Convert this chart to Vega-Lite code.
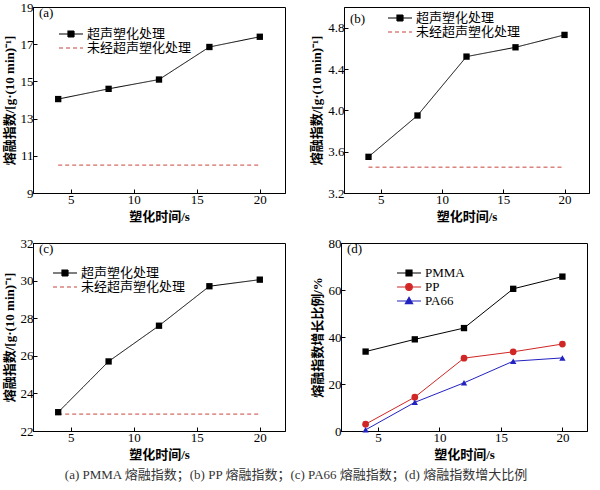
{
  "$schema": "https://vega.github.io/schema/vega-lite/v6.json",
  "padding": {"left": 2, "top": 0, "right": 5, "bottom": 5},
  "resolve": {"scale": {"color": "independent", "strokeDash": "independent"}, "legend": {"color": "independent", "strokeDash": "independent"}},
  "config": {
    "font": "Liberation Serif",
    "view": {"stroke": "black", "strokeWidth": 1},
    "axis": {
      "grid": false,
      "domainColor": "black",
      "tickColor": "black",
      "tickSize": -4,
      "tickCount": 12,
      "labelPadding": 4,
      "labelOverlap": false,
      "labelFont": "Liberation Serif",
      "labelFontSize": 13,
      "labelColor": "black",
      "titleFont": "Liberation Serif, Noto Sans CJK SC",
      "titleFontSize": 13,
      "titleFontWeight": "bold",
      "titleColor": "black"
    },
    "legend": {
      "title": null,
      "labelFont": "Liberation Serif, Noto Sans CJK SC",
      "labelFontSize": 13,
      "labelColor": "black",
      "rowPadding": -4,
      "symbolSize": 144,
      "symbolStrokeWidth": 1.2,
      "labelOffset": 9
    },
    "title": {"font": "Liberation Serif", "fontSize": 13, "fontWeight": "normal", "color": "black"}
  },
  "title": {
    "text": "(a) PMMA 熔融指数；(b) PP 熔融指数；(c) PA66 熔融指数；(d)  熔融指数增大比例",
    "orient": "bottom",
    "anchor": "middle",
    "font": "Liberation Serif, Noto Sans CJK SC",
    "fontSize": 13,
    "fontWeight": "normal",
    "color": "#333333",
    "offset": 7
  },
  "datasets": {
    "a": [
      {"t": 4, "v": 14.05, "s": "超声塑化处理"},
      {"t": 8, "v": 14.6, "s": "超声塑化处理"},
      {"t": 12, "v": 15.1, "s": "超声塑化处理"},
      {"t": 16, "v": 16.85, "s": "超声塑化处理"},
      {"t": 20, "v": 17.4, "s": "超声塑化处理"},
      {"t": 4, "v": 10.5, "s": "未经超声塑化处理"},
      {"t": 20, "v": 10.5, "s": "未经超声塑化处理"}
    ],
    "b": [
      {"t": 4, "v": 3.55, "s": "超声塑化处理"},
      {"t": 8, "v": 3.95, "s": "超声塑化处理"},
      {"t": 12, "v": 4.52, "s": "超声塑化处理"},
      {"t": 16, "v": 4.61, "s": "超声塑化处理"},
      {"t": 20, "v": 4.73, "s": "超声塑化处理"},
      {"t": 4, "v": 3.45, "s": "未经超声塑化处理"},
      {"t": 20, "v": 3.45, "s": "未经超声塑化处理"}
    ],
    "c": [
      {"t": 4, "v": 23.0, "s": "超声塑化处理"},
      {"t": 8, "v": 25.7, "s": "超声塑化处理"},
      {"t": 12, "v": 27.6, "s": "超声塑化处理"},
      {"t": 16, "v": 29.7, "s": "超声塑化处理"},
      {"t": 20, "v": 30.05, "s": "超声塑化处理"},
      {"t": 4, "v": 22.9, "s": "未经超声塑化处理"},
      {"t": 20, "v": 22.9, "s": "未经超声塑化处理"}
    ],
    "d": [
      {"t": 4, "v": 33.8, "m": "PMMA"},
      {"t": 8, "v": 39.0, "m": "PMMA"},
      {"t": 12, "v": 43.8, "m": "PMMA"},
      {"t": 16, "v": 60.5, "m": "PMMA"},
      {"t": 20, "v": 65.7, "m": "PMMA"},
      {"t": 4, "v": 2.9, "m": "PP"},
      {"t": 8, "v": 14.4, "m": "PP"},
      {"t": 12, "v": 31.0, "m": "PP"},
      {"t": 16, "v": 33.7, "m": "PP"},
      {"t": 20, "v": 37.0, "m": "PP"},
      {"t": 4, "v": 0.5, "m": "PA66"},
      {"t": 8, "v": 12.2, "m": "PA66"},
      {"t": 12, "v": 20.5, "m": "PA66"},
      {"t": 16, "v": 29.7, "m": "PA66"},
      {"t": 20, "v": 31.1, "m": "PA66"}
    ]
  },
  "vconcat": [
    {
      "resolve": {"scale": {"color": "independent", "strokeDash": "independent"}, "legend": {"color": "independent", "strokeDash": "independent"}},
      "hconcat": [
        {
          "width": 252, "height": 186,
          "title": {"text": "(a)", "anchor": "start", "frame": "group", "offset": -19, "dx": 6},
          "data": {"name": "a"},
          "layer": [
            {
              "mark": {"type": "line", "strokeWidth": 1},
              "encoding": {
                "x": {"field": "t", "type": "quantitative", "scale": {"domain": [2, 22]}, "axis": {"values": [5, 10, 15, 20], "title": "塑化时间/s"}},
                "y": {"field": "v", "type": "quantitative", "scale": {"domain": [9, 19]}, "axis": {"values": [9, 11, 13, 15, 17, 19], "title": "熔融指数/[g·(10 min)⁻¹]"}},
                "color": {
                  "field": "s", "type": "nominal",
                  "scale": {"domain": ["超声塑化处理", "未经超声塑化处理"], "range": ["black", "#c8453c"]},
                  "legend": {
                    "orient": "none", "legendX": 31, "legendY": 20,
                    "encode": {"symbols": {"update": {
                      "shape": {"signal": "datum.value === '超声塑化处理' ? 'M-2,0H2M-0.5,-0.5H0.5V0.5H-0.5Z' : 'M-2,0H2'"},
                      "fill": {"signal": "datum.value === '超声塑化处理' ? 'black' : 'transparent'"}
                    }}}
                  }
                },
                "strokeDash": {"field": "s", "type": "nominal", "scale": {"domain": ["超声塑化处理", "未经超声塑化处理"], "range": [[1, 0], [4, 3]]}}
              }
            },
            {
              "transform": [{"filter": "datum.s === '超声塑化处理'"}],
              "mark": {"type": "point", "shape": "square", "filled": true, "color": "black", "size": 40, "opacity": 1},
              "encoding": {
                "x": {"field": "t", "type": "quantitative"},
                "y": {"field": "v", "type": "quantitative"}
              }
            }
          ]
        },
        {
          "width": 245, "height": 186,
          "title": {"text": "(b)", "anchor": "start", "frame": "group", "offset": -19, "dx": 6},
          "data": {"name": "b"},
          "layer": [
            {
              "mark": {"type": "line", "strokeWidth": 1},
              "encoding": {
                "x": {"field": "t", "type": "quantitative", "scale": {"domain": [2, 22]}, "axis": {"values": [5, 10, 15, 20], "title": "塑化时间/s"}},
                "y": {"field": "v", "type": "quantitative", "scale": {"domain": [3.2, 5.0]}, "axis": {"values": [3.2, 3.6, 4.0, 4.4, 4.8], "format": ".1f", "title": "熔融指数/[g·(10 min)⁻¹]"}},
                "color": {
                  "field": "s", "type": "nominal",
                  "scale": {"domain": ["超声塑化处理", "未经超声塑化处理"], "range": ["black", "#c8453c"]},
                  "legend": {
                    "orient": "none", "legendX": 49, "legendY": 4,
                    "encode": {"symbols": {"update": {
                      "shape": {"signal": "datum.value === '超声塑化处理' ? 'M-2,0H2M-0.5,-0.5H0.5V0.5H-0.5Z' : 'M-2,0H2'"},
                      "fill": {"signal": "datum.value === '超声塑化处理' ? 'black' : 'transparent'"}
                    }}}
                  }
                },
                "strokeDash": {"field": "s", "type": "nominal", "scale": {"domain": ["超声塑化处理", "未经超声塑化处理"], "range": [[1, 0], [4, 3]]}}
              }
            },
            {
              "transform": [{"filter": "datum.s === '超声塑化处理'"}],
              "mark": {"type": "point", "shape": "square", "filled": true, "color": "black", "size": 40, "opacity": 1},
              "encoding": {
                "x": {"field": "t", "type": "quantitative"},
                "y": {"field": "v", "type": "quantitative"}
              }
            }
          ]
        }
      ],
      "spacing": 24
    },
    {
      "resolve": {"scale": {"color": "independent", "strokeDash": "independent"}, "legend": {"color": "independent", "strokeDash": "independent"}},
      "hconcat": [
        {
          "width": 252, "height": 188,
          "title": {"text": "(c)", "anchor": "start", "frame": "group", "offset": -19, "dx": 6},
          "data": {"name": "c"},
          "layer": [
            {
              "mark": {"type": "line", "strokeWidth": 1},
              "encoding": {
                "x": {"field": "t", "type": "quantitative", "scale": {"domain": [2, 22]}, "axis": {"values": [5, 10, 15, 20], "title": "塑化时间/s"}},
                "y": {"field": "v", "type": "quantitative", "scale": {"domain": [22, 32]}, "axis": {"values": [22, 24, 26, 28, 30, 32], "title": "熔融指数/[g·(10 min)⁻¹]"}},
                "color": {
                  "field": "s", "type": "nominal",
                  "scale": {"domain": ["超声塑化处理", "未经超声塑化处理"], "range": ["black", "#c8453c"]},
                  "legend": {
                    "orient": "none", "legendX": 25, "legendY": 23,
                    "encode": {"symbols": {"update": {
                      "shape": {"signal": "datum.value === '超声塑化处理' ? 'M-2,0H2M-0.5,-0.5H0.5V0.5H-0.5Z' : 'M-2,0H2'"},
                      "fill": {"signal": "datum.value === '超声塑化处理' ? 'black' : 'transparent'"}
                    }}}
                  }
                },
                "strokeDash": {"field": "s", "type": "nominal", "scale": {"domain": ["超声塑化处理", "未经超声塑化处理"], "range": [[1, 0], [4, 3]]}}
              }
            },
            {
              "transform": [{"filter": "datum.s === '超声塑化处理'"}],
              "mark": {"type": "point", "shape": "square", "filled": true, "color": "black", "size": 40, "opacity": 1},
              "encoding": {
                "x": {"field": "t", "type": "quantitative"},
                "y": {"field": "v", "type": "quantitative"}
              }
            }
          ]
        },
        {
          "width": 246, "height": 188,
          "title": {"text": "(d)", "anchor": "start", "frame": "group", "offset": -19, "dx": 6},
          "data": {"name": "d"},
          "layer": [
            {
              "mark": {"type": "line", "strokeWidth": 1},
              "encoding": {
                "x": {"field": "t", "type": "quantitative", "scale": {"domain": [2, 22]}, "axis": {"values": [5, 10, 15, 20], "title": "塑化时间/s"}},
                "y": {"field": "v", "type": "quantitative", "scale": {"domain": [0, 80]}, "axis": {"values": [0, 20, 40, 60, 80], "title": "熔融指数增长比例/%"}},
                "color": {
                  "field": "m", "type": "nominal",
                  "scale": {"domain": ["PMMA", "PP", "PA66"], "range": ["black", "#d02626", "#2222c0"]},
                  "legend": {
                    "orient": "none", "legendX": 61, "legendY": 23,
                    "encode": {"symbols": {"update": {
                      "shape": {"signal": "datum.value === 'PMMA' ? 'M-2,0H2M-0.5,-0.5H0.5V0.5H-0.5Z' : datum.value === 'PP' ? 'M-2,0H2M0.55,0A0.55,0.55 0 1,1 -0.55,0A0.55,0.55 0 1,1 0.55,0Z' : 'M-2,0H2M0,-0.6L0.6,0.45L-0.6,0.45Z'"},
                      "fill": {"signal": "datum.value === 'PMMA' ? 'black' : datum.value === 'PP' ? '#e01c1c' : '#1c1cd0'"}
                    }}}
                  }
                }
              }
            },
            {
              "transform": [{"filter": "datum.m === 'PMMA'"}],
              "mark": {"type": "point", "shape": "square", "filled": true, "size": 40, "opacity": 1},
              "encoding": {
                "x": {"field": "t", "type": "quantitative"},
                "y": {"field": "v", "type": "quantitative"},
                "color": {"field": "m", "type": "nominal"}
              }
            },
            {
              "transform": [{"filter": "datum.m === 'PP'"}],
              "mark": {"type": "point", "shape": "circle", "filled": true, "size": 45, "opacity": 1},
              "encoding": {
                "x": {"field": "t", "type": "quantitative"},
                "y": {"field": "v", "type": "quantitative"},
                "color": {"field": "m", "type": "nominal"}
              }
            },
            {
              "transform": [{"filter": "datum.m === 'PA66'"}],
              "mark": {"type": "point", "shape": "triangle-up", "filled": true, "size": 40, "opacity": 1},
              "encoding": {
                "x": {"field": "t", "type": "quantitative"},
                "y": {"field": "v", "type": "quantitative"},
                "color": {"field": "m", "type": "nominal"}
              }
            }
          ]
        }
      ],
      "spacing": 24
    }
  ],
  "spacing": 12
}
